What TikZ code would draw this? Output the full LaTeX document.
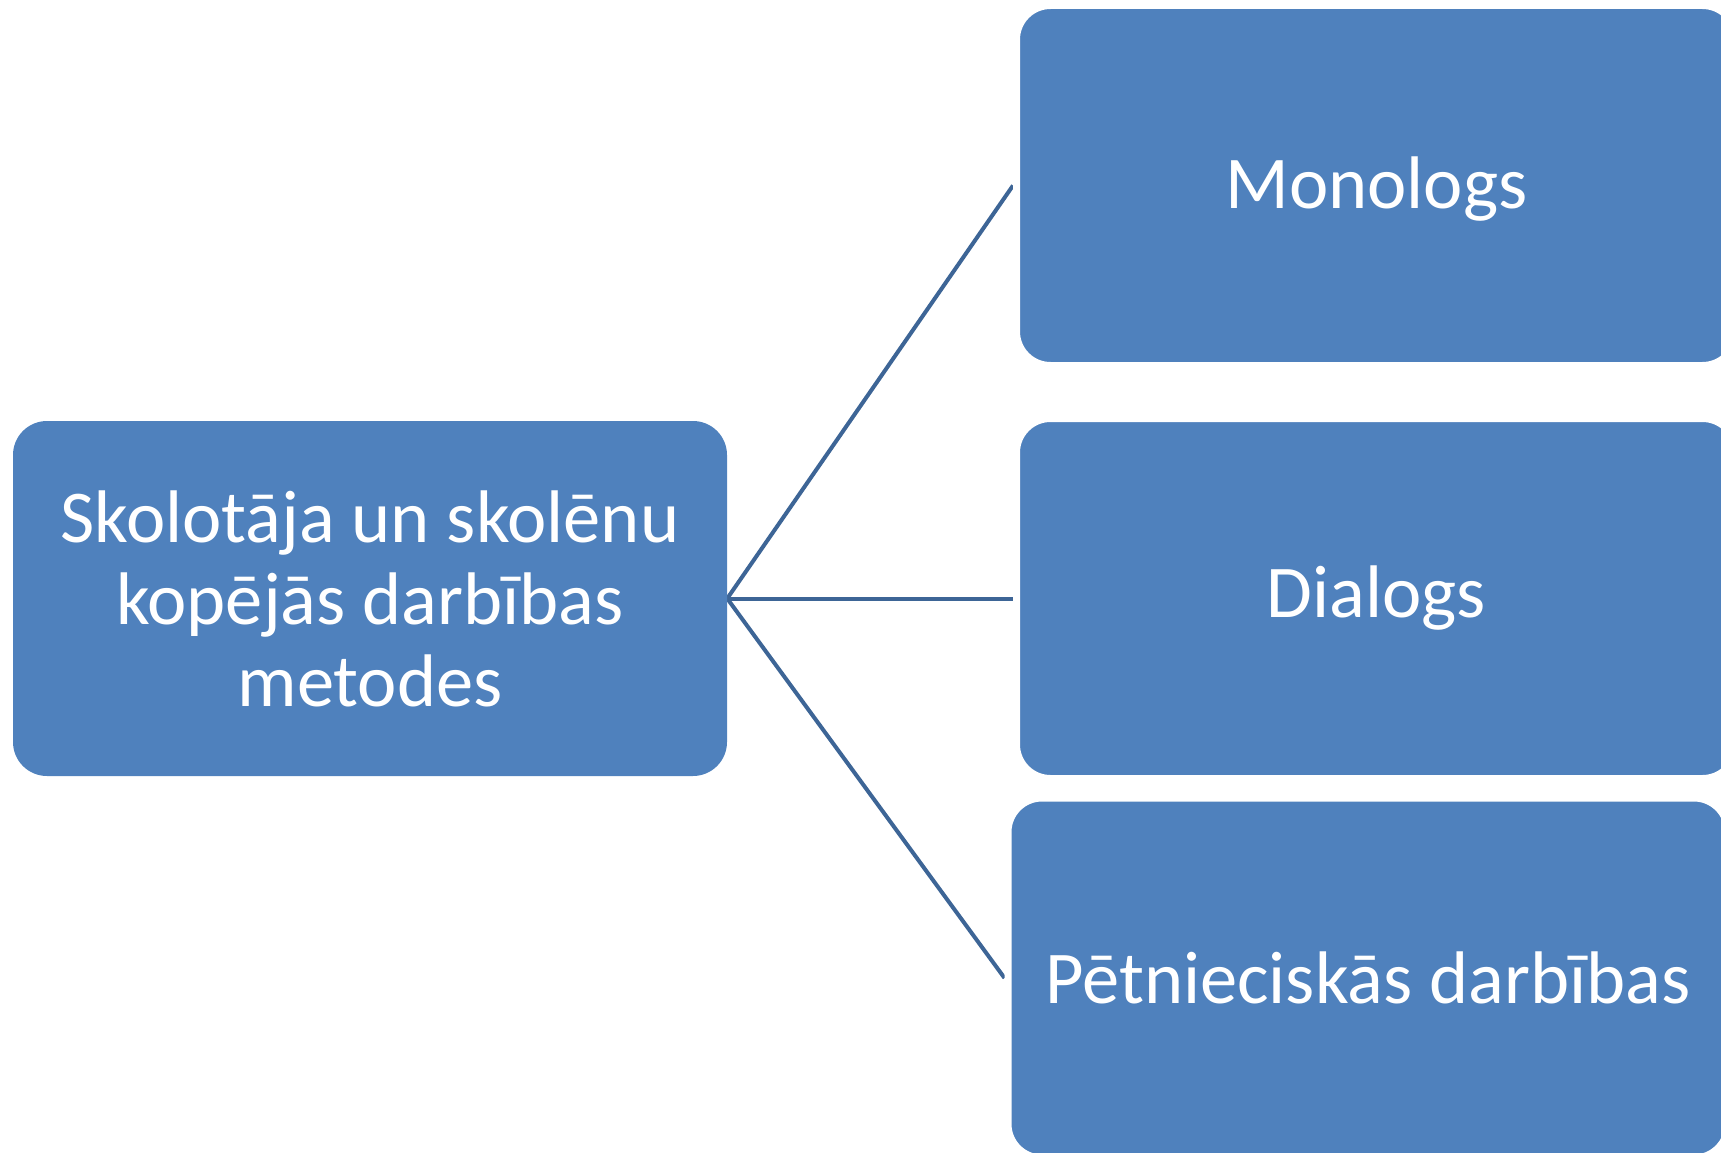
\documentclass[tikz,border=0pt]{standalone}
\usepackage{fontspec}
\setmainfont{Carlito}
\usetikzlibrary{backgrounds}
\definecolor{boxblue}{HTML}{4F81BD}
\definecolor{linkblue}{HTML}{3D6596}
\begin{document}
\begin{tikzpicture}[x=1pt,y=-1pt,
  box/.style={rectangle, rounded corners=34pt, fill=boxblue, text=white,
    font=\fontsize{74.5}{82}\selectfont, align=center, inner sep=0pt},
  rbox/.style={box, draw=white, line width=7pt, minimum width=720pt, minimum height=360pt},
  link/.style={draw=linkblue, line width=4pt}]
\useasboundingbox (0,0) rectangle (1721,1153);
\clip (0,0) rectangle (1721,1153);
\node[box, minimum width=714pt, minimum height=355pt] (src) at (370,598.5)
  {Skolotāja un skolēnu\\kopējās darbības\\metodes};
\node[rbox] (mono) at (1376.5,185.5) {\raisebox{-3.5pt}[\height][\depth]{Monologs}};
\node[rbox] (dial) at (1376.5,598.5) {Dialogs};
\node[rbox] (petn) at (1368,978) {Pētnieciskās darbības};
\begin{scope}[on background layer]
  \draw[link] (src.east) -- (mono.west);
  \draw[link] (src.east) -- (dial.west);
  \draw[link] (src.east) -- (petn.west);
\end{scope}
\end{tikzpicture}
\end{document}
